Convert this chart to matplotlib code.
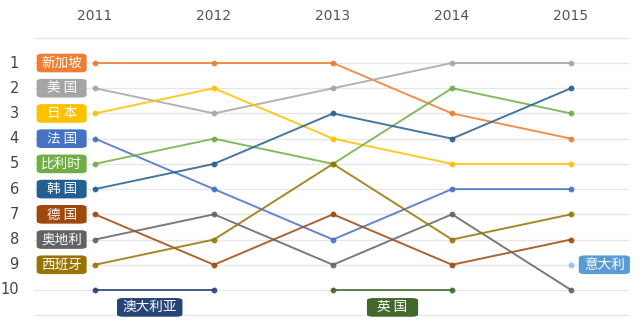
import matplotlib.pyplot as plt
from matplotlib.patches import FancyBboxPatch

plt.rcParams['font.family'] = ['Noto Sans CJK SC', 'DejaVu Sans']

years = [2011, 2012, 2013, 2014, 2015]
ranks_axis = list(range(1, 11))

# country name as shown on the tag, rank per year (None = not ranked)
countries = ['新加坡', '美 国', '日 本', '法 国', '比利时',
             '韩 国', '德 国', '奥地利', '西班牙']
singapore = [1, 1, 1, 3, 4]
usa = [2, 3, 2, 1, 1]
japan = [3, 2, 4, 5, 5]
france = [4, 6, 8, 6, 6]
belgium = [5, 4, 5, 2, 3]
korea = [6, 5, 3, 4, 2]
germany = [7, 9, 7, 9, 8]
austria = [8, 7, 9, 7, 10]
spain = [9, 8, 5, 8, 7]
australia = [10, 10, None, None, None]
uk = [None, None, 10, 10, None]
italy = [None, None, None, None, 9]

colors = ['#ED7D31', '#A5A5A5', '#FFC000', '#4472C4', '#70AD47',
          '#255E91', '#9E480E', '#636363', '#997300']
series = [singapore, usa, japan, france, belgium,
          korea, germany, austria, spain]

fig = plt.figure(figsize=(6.44, 3.35), dpi=100)
ax = fig.add_axes([0, 0, 1, 1])
ax.set_xlim(2010.202, 2015.613)
ax.set_ylim(11.785, -1.498)
ax.axis('off')

# gridlines
gx0, gx1 = 2010.49, 2015.48
for r in range(0, 12):
    ax.plot([gx0, gx1], [r, r], color='#e6e6e6', lw=0.9, zorder=0)

for y in years:
    ax.text(y, -0.85, str(y), ha='center', va='center', fontsize=10,
            color='#555555', family=['DejaVu Sans'])
for r in ranks_axis:
    ax.text(2010.36, r, str(r), ha='right', va='center', fontsize=10.5,
            color='#444444', family=['DejaVu Sans'])


def plot_series(vals, color):
    xs = [y for y, v in zip(years, vals) if v is not None]
    vs = [v for v in vals if v is not None]
    ax.plot(xs, vs, color=color, lw=1.4, alpha=0.85, marker='o',
            markersize=3.2, zorder=3)


def tag(x, y, text, color, w=0.42, h=0.74):
    box = FancyBboxPatch((x - w / 2, y - h / 2), w, h,
                         boxstyle='round,pad=0,rounding_size=0.05',
                         mutation_aspect=2.0,
                         facecolor=color, edgecolor='none', zorder=4)
    ax.add_patch(box)
    ax.text(x, y, text, ha='center', va='center', color='white',
            fontsize=9.8, zorder=5)


for name, vals, c in zip(countries, series, colors):
    plot_series(vals, c)
    tag(2010.72, vals[0], name, c)

plot_series(australia, '#264478')
tag(2011.46, 10.69, '澳大利亚', '#264478', w=0.55)
plot_series(uk, '#43682B')
tag(2013.50, 10.69, '英 国', '#43682B', w=0.43)
ax.plot([2015], [9], 'o', color='#9DC3E6', markersize=3.2, zorder=3)
tag(2015.28, 9, '意大利', '#5B9BD5', w=0.43)

fig.savefig('out.png', dpi=100)
